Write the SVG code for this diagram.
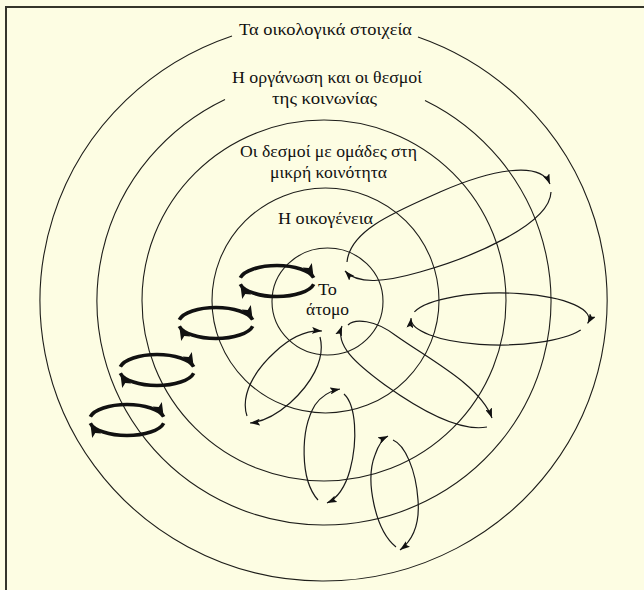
<svg xmlns="http://www.w3.org/2000/svg" width="644" height="590" viewBox="0 0 644 590">
<style>
.bg{fill:#fdfde3}
.frame{stroke:#35352a;stroke-width:2;fill:none}
.ring{fill:none;stroke:#1e1e1a;stroke-width:1.1}
.lbl{font-family:"Liberation Serif","DejaVu Serif",serif;font-size:17.5px;fill:#111;text-anchor:middle}
.thin{fill:none;stroke:#1a1a1a;stroke-width:1.2;marker-end:url(#ah)}
.thick{fill:none;stroke:#111;stroke-width:3.6;marker-end:url(#ahT)}
</style>
<defs>
<marker id="ah" viewBox="0 0 10 7" refX="10" refY="3.5" markerWidth="10" markerHeight="7" orient="auto" markerUnits="userSpaceOnUse"><path d="M0,0 L10,3.5 L0,7 L2,3.5 Z" fill="#111"/></marker>
<marker id="ahT" viewBox="0 0 14 10" refX="14" refY="5" markerWidth="14" markerHeight="10" orient="auto" markerUnits="userSpaceOnUse"><path d="M0,0 L14,5 L0,10 L3,5 Z" fill="#111"/></marker>
</defs>
<rect class="bg" x="0" y="0" width="644" height="590"/>
<path class="frame" d="M6,590 V7 H644"/>

<g id="ring-ecology">
<path class="ring" d="M232,36 A283.5,280 0 1 0 418,37"/>
<text class="lbl" x="325.5" y="35" textLength="173" lengthAdjust="spacingAndGlyphs">Τα οικολογικά στοιχεία</text>
</g>
<g id="ring-society">
<path class="ring" d="M225,99.4 A227,224 0 1 0 425,100.4"/>
<text class="lbl" x="327" y="83" textLength="190" lengthAdjust="spacingAndGlyphs">Η οργάνωση και οι θεσμοί</text>
<text class="lbl" x="324.5" y="104" textLength="105" lengthAdjust="spacingAndGlyphs">της κοινωνίας</text>
</g>
<g id="ring-community">
<ellipse class="ring" cx="324" cy="300.5" rx="182" ry="180.5"/>
<text class="lbl" x="328.5" y="157" textLength="177" lengthAdjust="spacingAndGlyphs">Οι δεσμοί με ομάδες στη</text>
<text class="lbl" x="328.5" y="178" textLength="117" lengthAdjust="spacingAndGlyphs">μικρή κοινότητα</text>
</g>
<g id="ring-family">
<ellipse class="ring" cx="325.5" cy="300.5" rx="113.5" ry="112.5"/>
<text class="lbl" x="325.5" y="224" textLength="95" lengthAdjust="spacingAndGlyphs">Η οικογένεια</text>
</g>
<g id="ring-individual">
<ellipse class="ring" cx="327.5" cy="301.5" rx="55.5" ry="53.5"/>
<text class="lbl" x="327.5" y="295" textLength="19" lengthAdjust="spacingAndGlyphs">Το</text>
<text class="lbl" x="327.5" y="315" textLength="43" lengthAdjust="spacingAndGlyphs">άτομο</text>
</g>

<g id="connectors">
<path class="thick" d="M240.3,277.8 A37.5,15.5 0 0 1 313.7,277.8"/>
<path class="thick" d="M313.7,284.2 A37.5,15.5 0 0 1 240.3,284.2"/>
<path class="thick" d="M179.3,319.8 A37.5,15.5 0 0 1 252.7,319.8"/>
<path class="thick" d="M252.7,326.2 A37.5,15.5 0 0 1 179.3,326.2"/>
<path class="thick" d="M120.3,366.8 A37.5,15.5 0 0 1 193.7,366.8"/>
<path class="thick" d="M193.7,373.2 A37.5,15.5 0 0 1 120.3,373.2"/>
<path class="thick" d="M90.3,416.8 A37.5,15.5 0 0 1 163.7,416.8"/>
<path class="thick" d="M163.7,423.2 A37.5,15.5 0 0 1 90.3,423.2"/>
<path class="thin" d="M347,262 C350,230 395,212 440,192 C490,170 540,160 550,184"/>
<path class="thin" d="M551,192 C550,225 470,258 420,272 C385,282 358,285 345,271"/>
<path class="thin" d="M414.4,311.8 A89,26 0 0 1 587.6,323.5"/>
<path class="thin" d="M580.7,330 A89,26 0 0 1 411.1,318.1"/>
<path class="thin" d="M348,325 C355,318 375,320 395,335 C430,360 480,385 492,418"/>
<path class="thin" d="M487,427 C460,432 420,410 385,385 C355,363 335,345 342,326"/>
<path class="thin" d="M320,337 C326,360 310,385 290,403 C275,416 262,422 250,423"/>
<path class="thin" d="M247,416 C240,395 255,370 275,352 C290,338 305,330 322,331"/>
<path class="thin" d="M318,500 C300,480 300,430 315,405 C322,395 330,391 340,389"/>
<path class="thin" d="M344,394 C356,405 358,440 350,470 C345,488 338,498 327,503"/>
<path class="thin" d="M396,547 C375,530 365,480 375,455 C378,446 382,439 388,436"/>
<path class="thin" d="M393,440 C405,445 416,470 418,500 C420,525 413,540 400,550"/>
</g>
</svg>
